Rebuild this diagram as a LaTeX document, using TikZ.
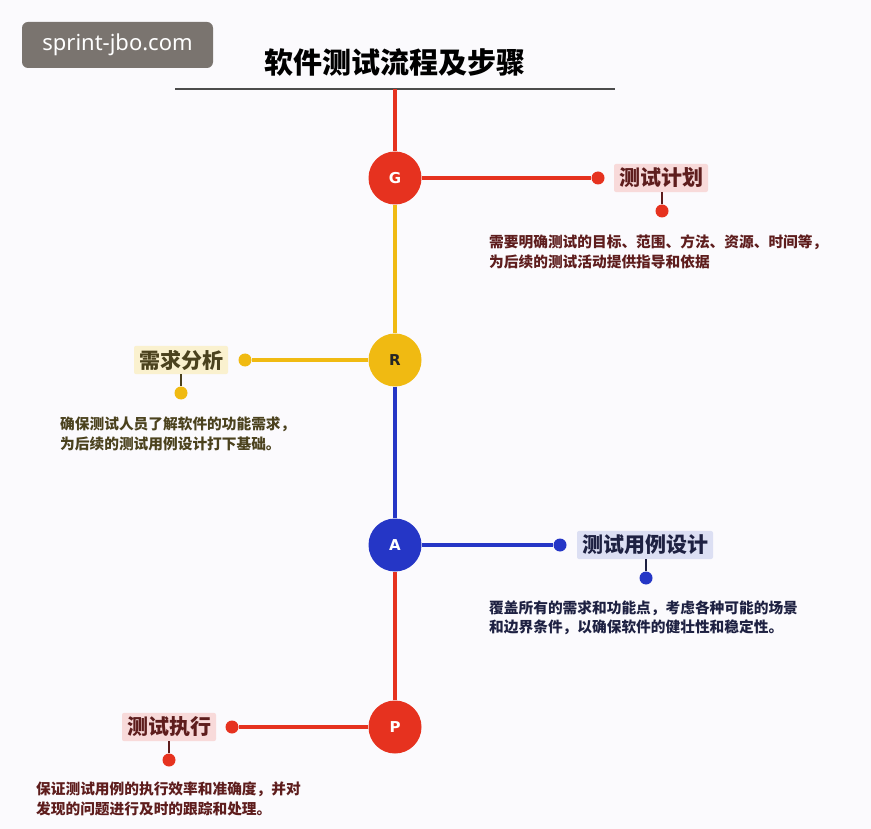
\documentclass[tikz,border=0pt]{standalone}
\usepackage{fontspec}
\setmainfont{Noto Sans}
\newfontfamily\cjk{Noto Sans CJK SC}
\newfontfamily\latinsans{Noto Sans}
\newfontfamily\circfont{DejaVu Sans}
\definecolor{bgc}{HTML}{FBFAFD}
\definecolor{wmgray}{HTML}{7A746F}
\definecolor{cred}{HTML}{E6321F}
\definecolor{cyel}{HTML}{F0BA12}
\definecolor{cblue}{HTML}{2536C6}
\definecolor{fpink}{HTML}{F8DADA}
\definecolor{fyel}{HTML}{FAF1CF}
\definecolor{fblue}{HTML}{DCDFF3}
\definecolor{tred}{HTML}{5E1D1D}
\definecolor{tyel}{HTML}{4B421E}
\definecolor{tblue}{HTML}{1E2142}
\tikzset{
  stepcirc/.style={circle, fill=#1, minimum size=53pt, inner sep=0pt, font=\circfont\bfseries\fontsize{15}{15}\selectfont},
  dotnode/.style={circle, fill=#1, minimum size=13pt, inner sep=0pt},
  lbl/.style={fill=#1, rounded corners=2pt, inner xsep=5pt, inner ysep=4pt, font=\cjk\bfseries\fontsize{21}{21}\selectfont},
  desc/.style={anchor=west, align=left, inner sep=0pt, font=\cjk\bfseries\fontsize{14.7}{19.5}\selectfont},
  conn/.style={line width=3.2pt, draw=#1},
}
\begin{document}
\begin{tikzpicture}[x=1pt,y=-1pt]
\fill[bgc] (0,0) rectangle (871,829);
\useasboundingbox (0,0) rectangle (871,829);
% watermark
\node[fill=wmgray, rounded corners=6pt, minimum width=191pt, minimum height=46pt, text=white, font=\latinsans\fontsize{22}{22}\selectfont] (wm) at (117.5,45) {sprint-jbo.com};
% title
\node[font=\cjk\bfseries\fontsize{29}{29}\selectfont] (title) at (395,62) {软件测试流程及步骤};
\coordinate (hl) at (175,89);
\coordinate (hr) at (615,89);
\coordinate (top) at (395,89);
\draw[line width=2pt, draw=black!70] (hl) -- (hr);
% circles
\node[stepcirc=cred, text=white] (G) at (395,178) {G};
\node[stepcirc=cyel, text=black!85] (R) at (395,360) {R};
\node[stepcirc=cblue, text=white] (A) at (395,545) {A};
\node[stepcirc=cred, text=white] (P) at (395,727) {P};
% spine
\draw[conn=cred] (top) -- (G);
\draw[conn=cyel] (G) -- (R);
\draw[conn=cblue] (R) -- (A);
\draw[conn=cred] (A) -- (P);
% G branch
\node[dotnode=cred] (gd) at (598,178) {};
\node[lbl=fpink, text=tred] (gl) at (661,178) {测试计划};
\node[dotnode=cred] (gd2) at (662,211) {};
\draw[conn=cred] (G) -- (gd);
\draw[line width=2pt, draw=tred] (gl.south -| gd2) -- (gd2);
\node[desc, text=tred] (gt) at (489,252) {需要明确测试的目标、范围、方法、资源、时间等，\\为后续的测试活动提供指导和依据};
% R branch
\node[dotnode=cyel] (rd) at (245,360) {};
\node[lbl=fyel, text=tyel] (rl) at (181,360) {需求分析};
\node[dotnode=cyel] (rd2) at (181,393) {};
\draw[conn=cyel] (R) -- (rd);
\draw[line width=2pt, draw=tyel] (rl.south -| rd2) -- (rd2);
\node[desc, text=tyel] (rt) at (60,434) {确保测试人员了解软件的功能需求，\\为后续的测试用例设计打下基础。};
% A branch
\node[dotnode=cblue] (ad) at (560,545) {};
\node[lbl=fblue, text=tblue] (al) at (645,545) {测试用例设计};
\node[dotnode=cblue] (ad2) at (646,578) {};
\draw[conn=cblue] (A) -- (ad);
\draw[line width=2pt, draw=tblue] (al.south -| ad2) -- (ad2);
\node[desc, text=tblue] (at) at (489,618) {覆盖所有的需求和功能点，考虑各种可能的场景\\和边界条件，以确保软件的健壮性和稳定性。};
% P branch
\node[dotnode=cred] (pd) at (232,727) {};
\node[lbl=fpink, text=tred] (pl) at (169,727) {测试执行};
\node[dotnode=cred] (pd2) at (169,760) {};
\draw[conn=cred] (P) -- (pd);
\draw[line width=2pt, draw=tred] (pl.south -| pd2) -- (pd2);
\node[desc, text=tred] (pt) at (36,799) {保证测试用例的执行效率和准确度，并对\\发现的问题进行及时的跟踪和处理。};
\end{tikzpicture}
\end{document}
